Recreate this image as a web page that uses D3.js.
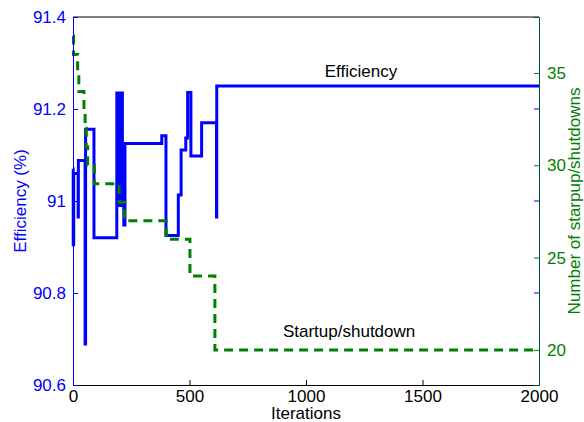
<!DOCTYPE html>
<html>
<head>
<meta charset="utf-8">
<script src="https://d3js.org/d3.v7.min.js"></script>
<style>
  body { margin: 0; background: #fff; }
  text { font-family: "Liberation Sans", Arial, Helvetica, sans-serif; }
</style>
</head>
<body>
<div id="chart"></div>
<script>
// --- data ---
// efficiency (%) per iteration, step changes
const effIter = [0, 1, 3, 22, 23, 52, 54, 90, 188, 192, 195, 199, 202, 206, 209, 212, 218, 223, 381, 399, 452, 464, 484, 492, 506, 552, 616, 617, 2000];
const effVal  = [91.07, 90.905, 91.06, 90.965, 91.088, 90.689, 91.156, 90.92, 91.235, 90.99, 91.235, 90.99, 91.235, 90.99, 91.235, 90.99, 90.948, 91.125, 91.142, 90.925, 91.013, 91.111, 91.137, 91.236, 91.098, 91.170, 90.965, 91.25, 91.25];

// number of startup/shutdowns per iteration
const suIter = [0, 2, 20, 25, 47, 52, 57, 63, 92, 198, 222, 400, 502, 609, 2000];
const suVal  = [37, 36, 35, 34, 33, 32, 31, 30, 29, 28, 27, 26, 24, 20, 20];

const xTicks = [0, 500, 1000, 1500, 2000];
const effTicks = [90.6, 90.8, 91, 91.2, 91.4];
const suTicks = [20, 25, 30, 35];

const W = 584, H = 422;
const m = { left: 73, right: 45, top: 17, bottom: 37 };
const blue = "#0000ff", green = "#008000";

const svg = d3.select("#chart").append("svg")
  .attr("width", W).attr("height", H);

const x = d3.scaleLinear().domain([0, 2000]).range([m.left, W - m.right]);
const yL = d3.scaleLinear().domain([90.6, 91.4]).range([H - m.bottom, m.top]);
const yR = d3.scaleLinear().domain([18.1, 38.03]).range([H - m.bottom, m.top]);

const effData = effIter.map((d, i) => [d, effVal[i]]);
const suData = suIter.map((d, i) => [d, suVal[i]]);

// lines
svg.append("path")
  .datum(effData)
  .attr("fill", "none").attr("stroke", blue).attr("stroke-width", 3)
  .attr("d", d3.line().curve(d3.curveStepAfter).x(d => x(d[0])).y(d => yL(d[1])));

svg.append("path")
  .datum(suData)
  .attr("fill", "none").attr("stroke", green).attr("stroke-width", 3)
  .attr("stroke-dasharray", "9,6")
  .attr("d", d3.line().curve(d3.curveStepAfter).x(d => x(d[0])).y(d => yR(d[1])));

// top border
svg.append("line").attr("x1", x(0)).attr("x2", x(2000)).attr("y1", m.top).attr("y2", m.top)
  .attr("stroke", "#000").attr("stroke-width", 1);

// bottom axis (ticks inward)
const gx = svg.append("g").attr("transform", `translate(0,${H - m.bottom})`)
  .call(d3.axisBottom(x).tickValues(xTicks).tickSize(-5).tickPadding(5).tickFormat(d3.format("d")));
gx.select(".domain").attr("stroke", "#000");
gx.selectAll("text").attr("font-size", 17).attr("fill", "#000")
  .attr("font-family", "Liberation Sans, Arial, sans-serif");

// left axis
const gl = svg.append("g").attr("transform", `translate(${m.left},0)`)
  .call(d3.axisLeft(yL).tickValues(effTicks).tickSize(-5).tickPadding(7).tickFormat(d => String(+d.toFixed(1))));
gl.select(".domain").attr("stroke", blue);
gl.selectAll(".tick line").attr("stroke", blue);
gl.selectAll("text").attr("font-size", 17).attr("fill", blue)
  .attr("font-family", "Liberation Sans, Arial, sans-serif");

// blue ticks mirrored on the right side
svg.append("g").selectAll("line").data(effTicks.slice(1, -1)).join("line")
  .attr("x1", W - m.right - 5).attr("x2", W - m.right)
  .attr("y1", d => yL(d)).attr("y2", d => yL(d))
  .attr("stroke", blue);

// right axis
const gr = svg.append("g").attr("transform", `translate(${W - m.right},0)`)
  .call(d3.axisRight(yR).tickValues(suTicks).tickSize(-5).tickPadding(8));
gr.select(".domain").attr("stroke", "#005050");
gr.selectAll(".tick line").attr("stroke", green);
gr.selectAll("text").attr("font-size", 17).attr("fill", green)
  .attr("font-family", "Liberation Sans, Arial, sans-serif");

// axis labels
svg.append("text").attr("x", (m.left + W - m.right) / 2).attr("y", H - 3)
  .attr("text-anchor", "middle").attr("font-size", 17).attr("fill", "#000").text("Iterations");

svg.append("text").attr("transform", `translate(26,${(m.top + H - m.bottom) / 2}) rotate(-90)`)
  .attr("text-anchor", "middle").attr("font-size", 17).attr("fill", blue).text("Efficiency (%)");

svg.append("text").attr("transform", `translate(580,${(m.top + H - m.bottom) / 2}) rotate(-90)`)
  .attr("text-anchor", "middle").attr("font-size", 17).attr("fill", green).text("Number of starpup/shutdowns");

// annotations
svg.append("text").attr("x", x(1236)).attr("y", 77).attr("text-anchor", "middle")
  .attr("font-size", 17).attr("fill", "#000").text("Efficiency");
svg.append("text").attr("x", x(1185)).attr("y", 337).attr("text-anchor", "middle")
  .attr("font-size", 17).attr("fill", "#000").text("Startup/shutdown");
</script>
</body>
</html>
